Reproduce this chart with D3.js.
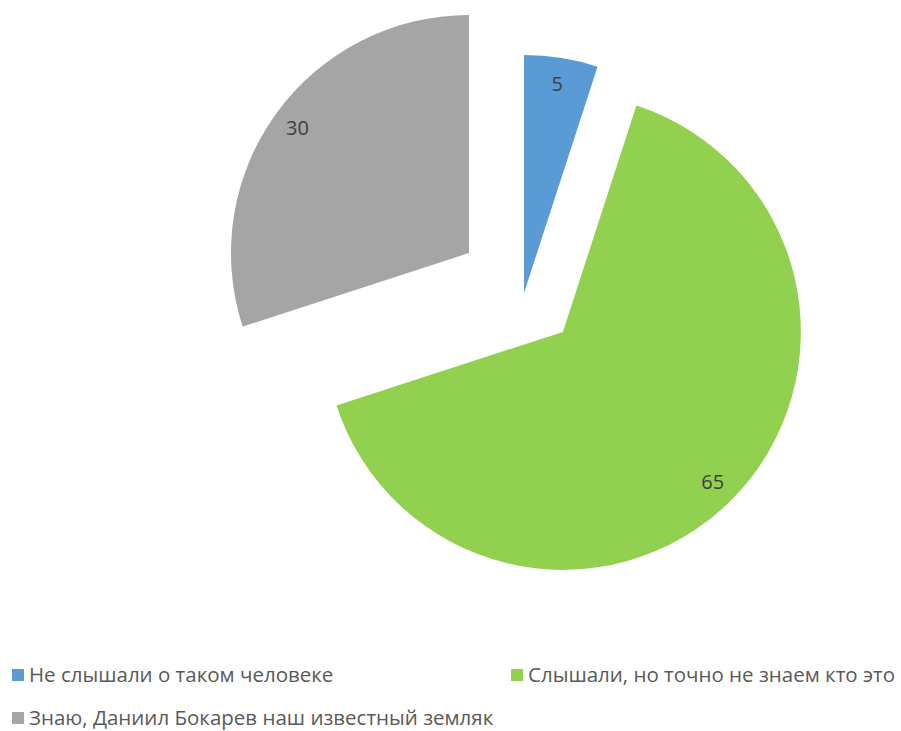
<!DOCTYPE html>
<html>
<head>
<meta charset="utf-8">
<script src="https://cdn.jsdelivr.net/npm/d3@7"></script>
<style>
  body { margin: 0; background: #fff; }
  text { font-family: "Open Sans", "Noto Sans", sans-serif; }
</style>
</head>
<body>
<div id="chart"></div>
<script>
// data
const categories = ["Не слышали о таком человеке", "Слышали, но точно не знаем кто это", "Знаю, Даниил Бокарев наш известный земляк"]
const values = [5, 65, 30]
const colors = ["#5B9BD5", "#92D050", "#A5A5A5"]
// how far each slice is pulled out (px)
const explode = [0, 55, 68]

var width = 901, height = 731
var cx = 524, cy = 293, radius = 238

var svg = d3.select("#chart")
    .append("svg")
    .attr("width", width)
    .attr("height", height)

const pieGroup = svg.append("g").attr("transform", "translate(" + cx + "," + cy + ")")

var pie = d3.pie().sort(null).value(d => d)
var arcs = pie(values)

var arc = d3.arc().innerRadius(0).outerRadius(radius)
var labelArc = d3.arc().innerRadius(212).outerRadius(212)

function offset(d, i) {
    var mid = (d.startAngle + d.endAngle) / 2
    return [Math.sin(mid) * explode[i], -Math.cos(mid) * explode[i]]
}

var slices = pieGroup.selectAll("g.slice").data(arcs)
    .enter().append("g")
    .attr("class", "slice")
    .attr("transform", (d, i) => { var o = offset(d, i); return "translate(" + o[0] + "," + o[1] + ")" })

slices.append("path")
    .attr("d", arc)
    .style("fill", (d, i) => colors[i])

slices.append("text")
    .attr("transform", d => "translate(" + labelArc.centroid(d) + ")")
    .attr("text-anchor", "middle")
    .attr("dy", "0.35em")
    .style("font-size", "20px")
    .style("fill", "#404040")
    .text(d => d.data)

// legend
var legendPos = [[12, 675], [511, 675], [12, 718]]
var legend = svg.selectAll("g.legend").data(categories)
    .enter().append("g")
    .attr("class", "legend")
    .attr("transform", (d, i) => "translate(" + legendPos[i][0] + "," + legendPos[i][1] + ")")

legend.append("rect")
    .attr("x", 0).attr("y", -6)
    .attr("width", 12).attr("height", 12)
    .style("fill", (d, i) => colors[i])

legend.append("text")
    .attr("x", 17)
    .attr("dy", "0.35em")
    .style("font-size", "20.5px")
    .style("fill", "#595959")
    .text(d => d)
</script>
</body>
</html>
